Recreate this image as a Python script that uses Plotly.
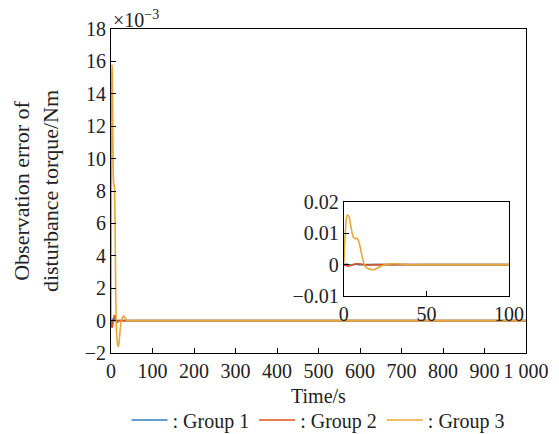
import plotly.graph_objects as go

# time samples (s)
time_s = [0, 1, 2, 3, 4, 5, 6, 7, 8, 9, 10, 11, 12, 13, 14, 16, 18, 20, 22, 25, 28, 30, 33, 38, 45, 60, 100, 200, 400, 600, 800, 1000]
# observation error of disturbance torque (Nm)
group1 = [0, 0.0001, 0.0001, 0.0000, -0.0001, -0.0001, 0.0000, 0.0001, 0.0001, 0.0000, 0.0000, 0.0000, 0.0000, 0.0000, 0.0000, 0.0000, 0.0000, 0.0000, 0.0000, 0.0000, 0.0000, 0.0000, 0.0000, 0.0000, 0.0000, 0.0000, 0.0000, 0.0000, 0.0000, 0.0000, 0.0000, 0.0000]
group2 = [0, -0.0002, -0.0004, -0.0004, -0.0003, -0.0001, 0.0001, 0.0002, 0.0003, 0.0003, 0.0002, 0.0001, 0.0000, -0.0001, -0.0001, -0.0001, 0.0000, 0.0000, 0.0000, 0.0000, 0.0000, 0.0000, 0.0000, 0.0000, 0.0000, 0.0000, 0.0000, 0.0000, 0.0000, 0.0000, 0.0000, 0.0000]
group3 = [0, 0.0110, 0.0158, 0.0155, 0.0130, 0.0102, 0.0086, 0.0083, 0.0084, 0.0075, 0.0054, 0.0028, 0.0007, -0.0005, -0.0010, -0.0015, -0.0016, -0.0012, -0.0006, 0.0000, 0.0002, 0.0003, 0.0002, 0.0000, 0.0000, 0.0000, 0.0000, 0.0000, 0.0000, 0.0000, 0.0000, 0.0000]

names = [": Group 1", ": Group 2", ": Group 3"]
colors = ["#2F7CC4", "#D95319", "#E8A736"]
series = [group1, group2, group3]

x_ticks = [0, 100, 200, 300, 400, 500, 600, 700, 800, 900, 1000]
x_ticklabels = ["0", "100", "200", "300", "400", "500", "600", "700", "800", "900", "1 000"]
y_ticks = [-2, 0, 2, 4, 6, 8, 10, 12, 14, 16, 18]
inset_x_ticks = [0, 50, 100]
inset_y_ticks = [-0.01, 0, 0.01, 0.02]

font = dict(family="Liberation Serif", size=20, color="#222222")
title_font = dict(family="Liberation Serif", size=22, color="#222222")

fig = go.Figure()
for s, n, c in zip(series, names, colors):
    fig.add_trace(go.Scatter(x=time_s, y=[v * 1000 for v in s], mode="lines", name=n,
                             line=dict(color=c, width=1.6, shape="spline", smoothing=0.8)))
for s, n, c in zip(series, names, colors):
    fig.add_trace(go.Scatter(x=time_s, y=s, mode="lines", name=n, showlegend=False,
                             xaxis="x2", yaxis="y2",
                             line=dict(color=c, width=1.6, shape="spline", smoothing=0.8)))

axis_common = dict(showgrid=False, zeroline=False, showline=True, linecolor="black", linewidth=1,
                   mirror=True, ticks="inside", ticklen=5, tickcolor="black", tickfont=font,
                   automargin=False)

fig.update_layout(
    width=551, height=426,
    margin=dict(l=103, r=33, t=21, b=81, autoexpand=False),
    paper_bgcolor="white", plot_bgcolor="white",
    font=font,
    showlegend=True,
    legend=dict(orientation="h", x=0.5, xanchor="center", xref="paper",
                y=-0.207, yanchor="middle", yref="paper",
                font=font, itemwidth=36, tracegroupgap=0, bgcolor="rgba(0,0,0,0)"),
    xaxis=dict(range=[0, 1000], tickvals=x_ticks, ticktext=x_ticklabels, **axis_common),
    yaxis=dict(range=[-2, 18], tickvals=y_ticks,
               title=dict(text="Observation error of<br>disturbance torque/Nm", font=title_font, standoff=20),
               **axis_common),
    xaxis2=dict(domain=[0.561, 0.959], anchor="y2", range=[0, 100], tickvals=inset_x_ticks, **axis_common),
    yaxis2=dict(domain=[0.176, 0.466], anchor="x2", range=[-0.01, 0.02], tickvals=inset_y_ticks,
                ticktext=["\u22120.01", "0", "0.01", "0.02"], **axis_common),
    annotations=[
        dict(text="\u00d710<sup>\u22123</sup>", x=0, y=1, xref="paper", yref="paper",
             xanchor="left", yanchor="bottom", showarrow=False, font=font, yshift=-4),
        dict(text="Time/s", x=0.5, y=0, xref="paper", yref="paper",
             xanchor="center", yanchor="middle", showarrow=False, font=font, yshift=-43),
    ],
)

fig.write_html("out.html")
